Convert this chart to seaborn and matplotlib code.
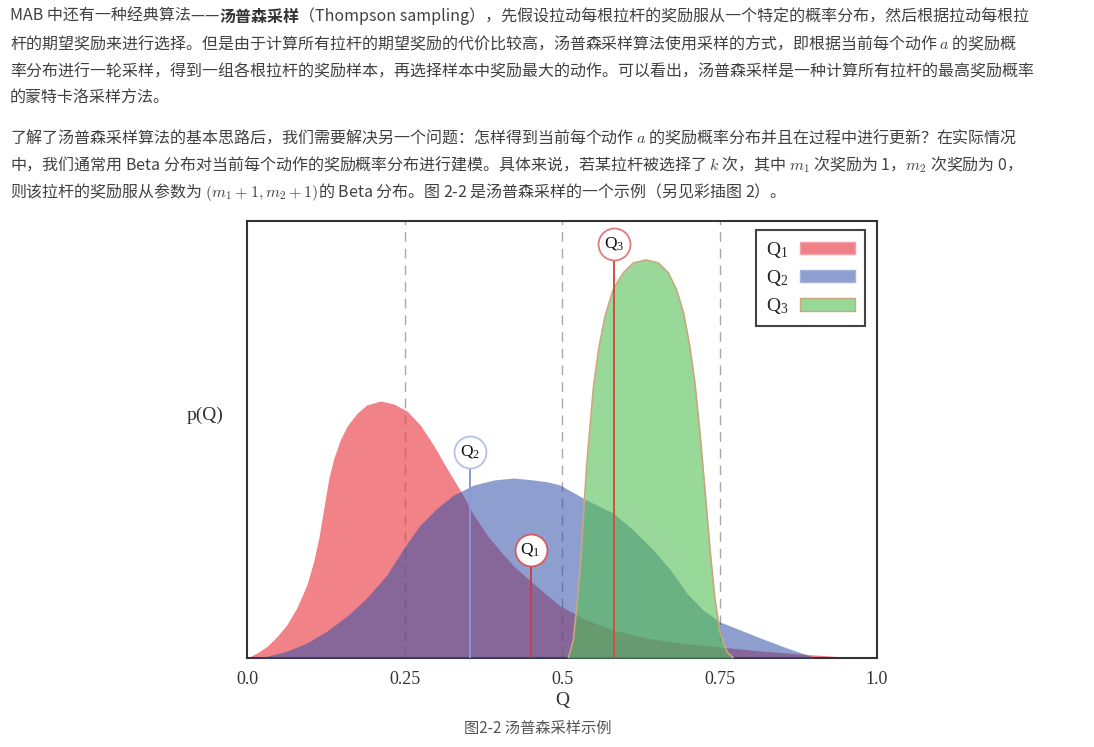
import matplotlib
matplotlib.use("Agg")
import matplotlib.pyplot as plt
from matplotlib.patches import Patch
import seaborn as sns

# 读取自原图的曲线点 (Q, 高度)
q1_q = [0.0, 0.016, 0.032, 0.048, 0.063, 0.079, 0.095, 0.106, 0.114, 0.122, 0.130, 0.138,
        0.148, 0.159, 0.175, 0.190, 0.212, 0.233, 0.254, 0.275, 0.296, 0.317, 0.339, 0.360,
        0.381, 0.402, 0.423, 0.450, 0.476, 0.497, 0.539, 0.581, 0.634, 0.687, 0.751, 0.815,
        0.878, 0.941, 1.0]
q1_p = [0, 5, 11.7, 21.7, 33, 50, 73, 97, 120, 150, 180, 200,
        218, 232, 245, 253, 257, 254, 247, 233, 213, 190, 167, 143,
        123, 107, 92, 77, 63, 52, 38, 28, 20, 15, 11, 7,
        4, 1.3, 0.5]

q2_q = [0.0, 0.032, 0.063, 0.095, 0.127, 0.159, 0.190, 0.222, 0.249, 0.275, 0.302, 0.328,
        0.360, 0.392, 0.423, 0.455, 0.478, 0.497, 0.539, 0.581, 0.613, 0.645, 0.672, 0.698,
        0.724, 0.751, 0.783, 0.815, 0.857, 0.899]
q2_p = [0, 1.7, 6.7, 15, 27, 42, 60, 83, 110, 133, 150, 163,
        173, 178, 180, 178, 176, 173, 158, 145, 128, 108, 88, 65,
        48, 36, 28, 20, 10, 1]

q3_q = [0.510, 0.518, 0.523, 0.529, 0.534, 0.539, 0.545, 0.550, 0.558, 0.568, 0.581, 0.597,
        0.613, 0.633, 0.653, 0.669, 0.682, 0.693, 0.703, 0.711, 0.719, 0.727, 0.735, 0.743,
        0.751, 0.762, 0.772]
q3_p = [0, 18, 48, 91, 141, 191, 235, 271, 308, 341, 368, 385,
        395, 398, 395, 385, 368, 345, 311, 275, 225, 168, 108, 58,
        25, 6, 0]

# 采样点
sample_labels = ["$\\mathregular{Q_1}$", "$\\mathregular{Q_2}$", "$\\mathregular{Q_3}$"]
sample_q = [0.450, 0.354, 0.582]
sample_p = [108, 206, 414]

tick_vals = [0.0, 0.25, 0.5, 0.75, 1.0]
tick_text = ["0.0", "0.25", "0.5", "0.75", "1.0"]

para1 = [
    "杆的期望奖励来进行选择。但是由于计算所有拉杆的期望奖励的代价比较高，汤普森采样算法使用采样的方式，即根据当前每个动作 $a$ 的奖励概",
    "率分布进行一轮采样，得到一组各根拉杆的奖励样本，再选择样本中奖励最大的动作。可以看出，汤普森采样是一种计算所有拉杆的最高奖励概率",
    "的蒙特卡洛采样方法。",
]
para2 = [
    "了解了汤普森采样算法的基本思路后，我们需要解决另一个问题：怎样得到当前每个动作 $a$ 的奖励概率分布并且在过程中进行更新？在实际情况",
    "中，我们通常用 Beta 分布对当前每个动作的奖励概率分布进行建模。具体来说，若某拉杆被选择了 $k$ 次，其中 $m_1$ 次奖励为 1，$m_2$ 次奖励为 0，",
    "则该拉杆的奖励服从参数为 $(m_1+1,m_2+1)$的 Beta 分布。图 2-2 是汤普森采样的一个示例（另见彩插图 2）。",
]

sns.set_style("white")
plt.rcParams["mathtext.fontset"] = "cm"
cjk = ["Noto Sans CJK SC", "DejaVu Sans"]
serif = ["Liberation Serif", "DejaVu Serif"]

W, H = 1094, 747
fig = plt.figure(figsize=(W / 100, H / 100), dpi=100)
ax = fig.add_axes([247 / W, 1 - 658 / H, 630 / W, 437 / H])

red = "#e84048"
blue = "#3150a8"
green = "#53be53"

ax.fill_between(q1_q, q1_p, color=red, alpha=0.65, lw=0, zorder=2)
ax.fill_between(q2_q, q2_p, color=blue, alpha=0.55, lw=0, zorder=3)
ax.fill_between(q3_q, q3_p, color=green, alpha=0.6, lw=0, zorder=4)
sns.lineplot(x=q3_q, y=q3_p, color="#c9a77c", lw=1.2, ax=ax, zorder=5)

for v in [0.25, 0.5, 0.75]:
    ax.axvline(v, color="#a8a8a8", lw=1, ls=(0, (7, 5)), zorder=1)

# 采样标记
line_cols = ["#c4404c", "#8a98d4", "#d0503c"]
ring_cols = ["#d45a62", "#b4c0ea", "#e07a80"]
for lab, q, p, lc, rc in zip(sample_labels, sample_q, sample_p, line_cols, ring_cols):
    ax.plot([q, q], [0, p], color=lc, lw=1.4, zorder=6)
    ax.plot(q, p, "o", ms=23, mfc="white", mec=rc, mew=1.3, zorder=7, clip_on=False)
    ax.text(q, p, lab, ha="center", va="center", family=serif, fontsize=12.5,
            color="#111", zorder=8)

ax.set_xlim(0, 1)
ax.set_ylim(0, 437)
ax.set_xticks(tick_vals)
ax.set_xticklabels(tick_text, family=serif, fontsize=13, color="#333")
ax.set_yticks([])
ax.tick_params(axis="x", length=0, pad=9)
ax.set_xlabel("Q", family=serif, fontsize=14, color="#333", labelpad=3)
ax.set_ylabel("p(Q)", family=serif, fontsize=14, color="#333", rotation=0,
              ha="center", va="center")
ax.yaxis.set_label_coords((205 - 247) / 630, (658 - 415) / 437)
for s in ax.spines.values():
    s.set_color("#333")
    s.set_linewidth(1.5)

handles = [
    Patch(facecolor="#f08088", edgecolor="#f4a0a6", label=sample_labels[0]),
    Patch(facecolor="#8e9fd0", edgecolor="#a4b2dc", label=sample_labels[1]),
    Patch(facecolor="#98d898", edgecolor="#c9a77c", label=sample_labels[2]),
]
leg = ax.legend(handles=handles, loc="upper right",
                bbox_to_anchor=((865 - 247) / 630, (658 - 230) / 437),
                borderaxespad=0, markerfirst=False, fancybox=False, framealpha=1,
                prop={"family": serif, "size": 14}, handlelength=2.85,
                handleheight=0.62, handletextpad=0.6, labelspacing=0.42,
                borderpad=0.5)
leg.get_frame().set_edgecolor("#444")
leg.get_frame().set_linewidth(1.5)

# 正文
txt = "#404040"
fs = 11.5
t1 = fig.text(10 / W, 1 - 21 / H, "MAB 中还有一种经典算法——", family=cjk, fontsize=fs,
              color=txt, va="baseline")
t2 = ax.annotate("汤普森采样", xy=(1, 0), xycoords=t1, va="bottom", ha="left",
                 family=cjk, fontsize=fs, color="#333", fontweight="bold",
                 annotation_clip=False)
ax.annotate("（Thompson sampling），先假设拉动每根拉杆的奖励服从一个特定的概率分布，然后根据拉动每根拉",
            xy=(1, 0), xycoords=t2, va="bottom", ha="left", family=cjk, fontsize=fs,
            color=txt, annotation_clip=False)

for i, line in enumerate(para1):
    fig.text(10 / W, 1 - (49 + 27 * i) / H, line, family=cjk, fontsize=fs, color=txt,
             va="baseline")
for i, line in enumerate(para2):
    fig.text(10 / W, 1 - (143 + 27 * i) / H, line, family=cjk, fontsize=fs, color=txt,
             va="baseline")

fig.text(538 / W, 1 - 728 / H, "图2-2 汤普森采样示例", family=cjk, fontsize=11,
         color="#555", ha="center", va="center")

fig.savefig("out.png", dpi=100)
